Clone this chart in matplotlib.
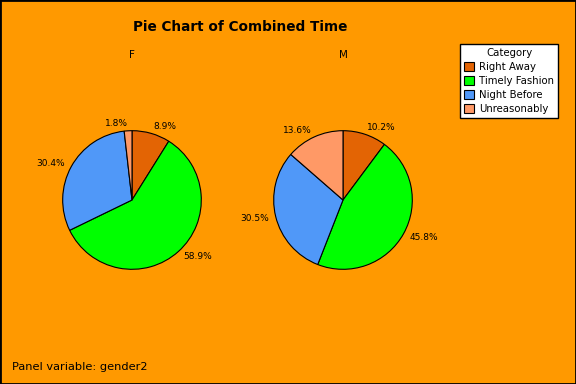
import matplotlib.pyplot as plt
from matplotlib.patches import Patch, Rectangle

categories = ["Right Away", "Timely Fashion", "Night Before", "Unreasonably"]
colors = ["#E36404", "#00FF00", "#5098F8", "#FF9966"]
panels = ["F", "M"]
values_f = [8.9, 58.9, 30.4, 1.8]
values_m = [10.2, 45.8, 30.5, 13.6]
bg = "#FF9900"

W, H = 576, 384
fig = plt.figure(figsize=(W / 100, H / 100), dpi=100, facecolor=bg)


def px_axes(cx, cy, r):
    return fig.add_axes([(cx - r) / W, (H - cy - r) / H, 2 * r / W, 2 * r / H])


for name, vals, cx in zip(panels, [values_f, values_m], [132, 343]):
    ax = px_axes(cx, 200, 70)
    ax.set_facecolor(bg)
    ax.pie(vals, colors=colors, startangle=90, counterclock=False,
           labels=[f"{v:.1f}%" for v in vals], labeldistance=1.1,
           wedgeprops=dict(edgecolor="black", linewidth=0.8),
           textprops=dict(fontsize=6.5))
    ax.set_xlim(-1.01, 1.01)
    ax.set_ylim(-1.01, 1.01)
    fig.text(cx / W, 1 - 55 / H, name, ha="center", va="center", fontsize=7.5)

fig.text(240 / W, 1 - 27 / H, "Pie Chart of Combined Time", ha="center",
         va="center", fontsize=9.8, fontweight="bold")
fig.text(12 / W, 1 - 367 / H, "Panel variable: gender2", ha="left",
         va="center", fontsize=8.2)

handles = [Patch(facecolor=c, edgecolor="black", linewidth=0.8) for c in colors]
leg = fig.legend(handles, categories, title="Category", loc="upper left",
                 bbox_to_anchor=(460 / W, 1 - 44 / H), fontsize=7.3,
                 title_fontsize=7.3, frameon=True, fancybox=False,
                 framealpha=1, edgecolor="black", handlelength=1.0,
                 handleheight=1.0, handletextpad=0.5, labelspacing=0.4,
                 borderpad=0.4, borderaxespad=0)
leg.get_frame().set_linewidth(1.0)
leg.get_frame().set_facecolor("white")

fig.patches.append(Rectangle((0, 0), 1, 1, transform=fig.transFigure,
                             fill=False, edgecolor="black", linewidth=2))

fig.savefig("out.png", dpi=100, facecolor=bg)
